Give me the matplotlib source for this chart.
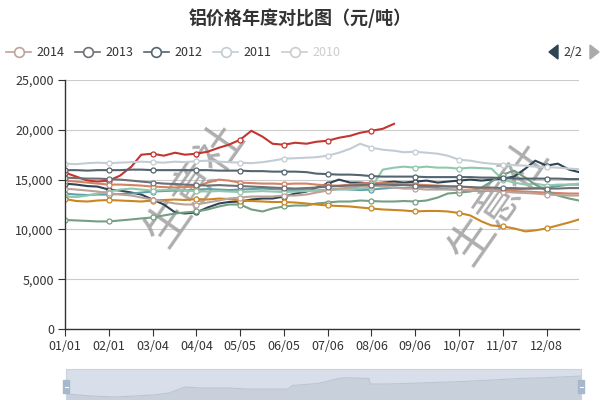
import numpy as np
import matplotlib
matplotlib.use('Agg')
import matplotlib.pyplot as plt
from matplotlib.lines import Line2D
from matplotlib.patches import Rectangle, Polygon

plt.rcParams['font.family'] = ['Noto Sans CJK SC', 'DejaVu Sans']

title = '铝价格年度对比图（元/吨）'
tick_labels = ['01/01', '02/01', '03/04', '04/04', '05/05', '06/05',
               '07/06', '08/06', '09/06', '10/07', '11/07', '12/08']

years = ['2021', '2020', '2019', '2018', '2017', '2016',
         '2015', '2014', '2013', '2012', '2011']
colors = ['#c23531', '#2f4554', '#61a0a8', '#d48265', '#91c7ae', '#749f83',
          '#ca8622', '#bda29a', '#6e7074', '#546570', '#c4ccd3']

legend_years = ['2014', '2013', '2012', '2011', '2010']
legend_colors = ['#bda29a', '#6e7074', '#546570', '#c4ccd3', '#cccccc']

# sample days: 4 points per 31-day block (category axis, 365 days)
days = [31 * m + k for m in range(12) for k in (0, 8, 16, 23)]

p2021 = [15700, 15300, 14900, 14800, 14900, 15400, 16300, 17500,
         17600, 17400, 17700, 17500, 17600, 17800, 18200, 18500,
         19000, 19900, 19300, 18600, 18500, 18700, 18600, 18800,
         18900, 19200, 19400, 19700, 19900, 20100, 20600]
p2020 = [14600, 14500, 14350, 14300, 14000, 13900, 13700, 13500,
         13000, 12500, 11700, 11600, 11700, 12200, 12600, 12750,
         12800, 13000, 13100, 13100, 13300, 13600, 13800, 14200,
         14600, 15000, 14700, 14700, 14600, 14700, 14800, 14700,
         14800, 14900, 14700, 14800, 14900, 15000, 14900, 15000,
         15100, 15300, 16100, 16900, 16400, 16600, 16000, 15750]
p2019 = [13600, 13500, 13450, 13500, 13500, 13550, 13600, 13700,
         13800, 13850, 13900, 13900, 14000, 14050, 14000, 13950,
         14000, 14050, 14100, 14050, 14000, 13950, 13950, 13900,
         14000, 14050, 14000, 13950, 14000, 14100, 14200, 14150,
         14200, 14250, 14150, 14050, 13950, 13900, 13850, 13900,
         13950, 14000, 14100, 14150, 14200, 14350, 14500, 14500]
p2018 = [14900, 14800, 14700, 14600, 14500, 14500, 14450, 14400,
         14300, 14250, 14200, 14250, 14300, 14700, 15000, 14900,
         14700, 14650, 14600, 14600, 14550, 14600, 14600, 14500,
         14400, 14400, 14500, 14600, 14700, 14650, 14600, 14550,
         14500, 14450, 14400, 14350, 14300, 14200, 14100, 14000,
         13950, 13850, 13800, 13750, 13700, 13650, 13600, 13600]
p2017 = [13300, 13250, 13400, 13600, 13800, 14000, 14100, 14000,
         13900, 13950, 14000, 13900, 13850, 13800, 13850, 13800,
         13750, 13800, 13850, 13800, 13750, 13800, 13850, 13900,
         13950, 14000, 14050, 14100, 14200, 16000, 16200, 16300,
         16200, 16300, 16200, 16200, 16100, 16200, 16150, 16100,
         15000, 14700, 14500, 14600, 14400, 14500, 14500, 14600]
p2016 = [10950, 10900, 10850, 10800, 10800, 10900, 11000, 11100,
         11200, 11400, 11600, 11700, 11800, 12000, 12300, 12500,
         12500, 12000, 11800, 12100, 12300, 12400, 12400, 12600,
         12700, 12800, 12800, 12900, 12850, 12800, 12800, 12850,
         12800, 12900, 13200, 13600, 13700, 13800, 14200, 14800,
         15500, 15900, 15200, 14500, 13900, 13400, 13100, 12900]
p2015 = [13050, 12850, 12800, 12900, 12950, 12900, 12850, 12800,
         12900, 12950, 13000, 12950, 13050, 13000, 13100, 13050,
         12900, 12850, 12800, 12750, 12750, 12700, 12600, 12500,
         12400, 12350, 12300, 12200, 12100, 12000, 11950, 11900,
         11800, 11850, 11850, 11800, 11650, 11400, 10800, 10400,
         10300, 10100, 9800, 9900, 10100, 10400, 10700, 11000]
p2014 = [14100, 14000, 13900, 13800, 13650, 13500, 13400, 13200,
         13000, 12800, 12600, 12500, 12500, 12700, 12900, 13100,
         13200, 13300, 13300, 13300, 13400, 13400, 13500, 13700,
         13900, 14100, 14200, 14300, 14400, 14300, 14200, 14100,
         14100, 14000, 14000, 14000, 14000, 13900, 13900, 13900,
         13800, 13700, 13650, 13600, 13500, 13450, 13400, 13400]
p2013 = [15200, 15150, 15100, 15100, 15050, 15000, 14900, 14800,
         14700, 14600, 14550, 14500, 14450, 14400, 14450, 14400,
         14350, 14300, 14250, 14200, 14150, 14100, 14150, 14200,
         14300, 14350, 14400, 14450, 14500, 14500, 14450, 14450,
         14400, 14350, 14350, 14300, 14300, 14250, 14200, 14200,
         14150, 14150, 14100, 14100, 14100, 14100, 14150, 14150]
p2012 = [15950, 15950, 15900, 15950, 15950, 15950, 16000, 16000,
         15950, 15950, 15950, 15950, 15950, 15950, 15900, 15900,
         15900, 15850, 15850, 15800, 15800, 15800, 15750, 15600,
         15550, 15500, 15500, 15450, 15350, 15300, 15300, 15300,
         15300, 15250, 15250, 15250, 15250, 15250, 15200, 15200,
         15150, 15100, 15100, 15100, 15100, 15100, 15050, 15050]
p2011 = [16600, 16550, 16650, 16700, 16650, 16700, 16750, 16800,
         16750, 16700, 16800, 16750, 16850, 16900, 16800, 16750,
         16700, 16650, 16750, 16900, 17100, 17150, 17200, 17250,
         17400, 17700, 18100, 18600, 18200, 18000, 17900, 17750,
         17800, 17700, 17600, 17400, 17000, 16900, 16700, 16600,
         16500, 16450, 16400, 16300, 16250, 16200, 16100, 16050]

series = [p2021, p2020, p2019, p2018, p2017, p2016,
          p2015, p2014, p2013, p2012, p2011]

# data shadow shown in the zoom slider (height in px inside the slider)
shadow_days = [0, 18, 35, 62, 73, 84, 95, 116, 127, 157, 160, 178,
               193, 197, 214, 215, 226, 251, 280, 302, 320, 339, 364]
shadow_level = [10, 8, 7, 9, 11, 17, 16, 16, 15, 15, 18.5, 20.5,
                25.5, 26.3, 25.5, 20, 20, 21, 22.5, 24, 25.5, 26.3, 28]

W, H = 600, 400


def fx(px):
    return px / W


def fy(py):
    return 1 - py / H


fig = plt.figure(figsize=(6, 4), dpi=100)
ax = fig.add_axes([fx(65), fy(329), (579 - 65) / W, (329 - 80) / H])

for vals, col in zip(series, colors):
    ax.plot(days[:len(vals)], vals, color=col, lw=1.5, marker='o', ms=3.6,
            mfc='white', mec=col, mew=0.9, markevery=4, zorder=2)

ax.set_xlim(0, 364)
ax.set_ylim(0, 25000)
ax.set_yticks(np.arange(0, 25001, 5000))
ax.set_yticklabels([f'{v:,}' for v in range(0, 25001, 5000)])
ax.set_xticks(np.arange(len(tick_labels)) * 31)
ax.set_xticklabels(tick_labels)
ax.yaxis.grid(True, color='#cccccc', lw=0.8)
ax.set_axisbelow(True)
for s in ['top', 'right']:
    ax.spines[s].set_visible(False)
for s in ['left', 'bottom']:
    ax.spines[s].set_color('#333333')
    ax.spines[s].set_linewidth(1)
ax.tick_params(direction='out', length=5, color='#333333', labelsize=9,
               labelcolor='#333333', pad=3)

# watermarks
for cx, cy in [(195, 185), (499, 203)]:
    ax.text(fx(cx), fy(cy), '生意社', transform=fig.transFigure, rotation=55,
            fontsize=33, color='#9a9a9a', alpha=0.8, ha='center', va='center',
            zorder=1, clip_on=False)

# title
fig.text(0.5, fy(18), title, ha='center', va='center', fontsize=13,
         fontweight='bold', color='#333333')

# legend (page 2/2)
ly = fy(52)
for i, (yr, col) in enumerate(zip(legend_years, legend_colors)):
    x0 = 6 + i * 69
    fig.add_artist(Line2D([fx(x0), fx(x0 + 25)], [ly, ly], color=col, lw=1.2,
                          transform=fig.transFigure))
    fig.add_artist(Line2D([fx(x0 + 12.5)], [ly], marker='o', ms=7, mfc='white',
                          mec=col, mew=1.2, transform=fig.transFigure))
    tcol = '#cccccc' if yr == '2010' else '#333333'
    fig.text(fx(x0 + 30), ly, yr, ha='left', va='center', fontsize=9, color=tcol)

fig.add_artist(Polygon([(fx(549), fy(52)), (fx(558), fy(45)), (fx(558), fy(59))],
                       closed=True, color='#2f4554', transform=fig.transFigure))
fig.text(fx(573), ly, '2/2', ha='center', va='center', fontsize=9, color='#333333')
fig.add_artist(Polygon([(fx(590), fy(45)), (fx(590), fy(59)), (fx(599), fy(52))],
                       closed=True, color='#aaaaaa', transform=fig.transFigure))

# zoom slider
sax = fig.add_axes([fx(66), fy(404), (581 - 66) / W, 35 / H])
sax.set_facecolor('#d8dfea')
sax.fill_between(shadow_days, 0, shadow_level, color='#c8d0dc', lw=0)
sax.plot(shadow_days, shadow_level, color='#bcc5d2', lw=0.8)
sax.set_xlim(0, 364)
sax.set_ylim(0, 35)
sax.set_xticks([])
sax.set_yticks([])
for s in sax.spines.values():
    s.set_color('#c9d3e0')
for hx in (63, 578):
    fig.add_artist(Rectangle((fx(hx), fy(393)), 6 / W, 13 / H, color='#a7b7cc',
                             transform=fig.transFigure))
    fig.add_artist(Line2D([fx(hx + 1.5), fx(hx + 4.5)], [fy(386.5), fy(386.5)],
                          color='white', lw=0.8, transform=fig.transFigure))

fig.savefig('out.png', dpi=100)
